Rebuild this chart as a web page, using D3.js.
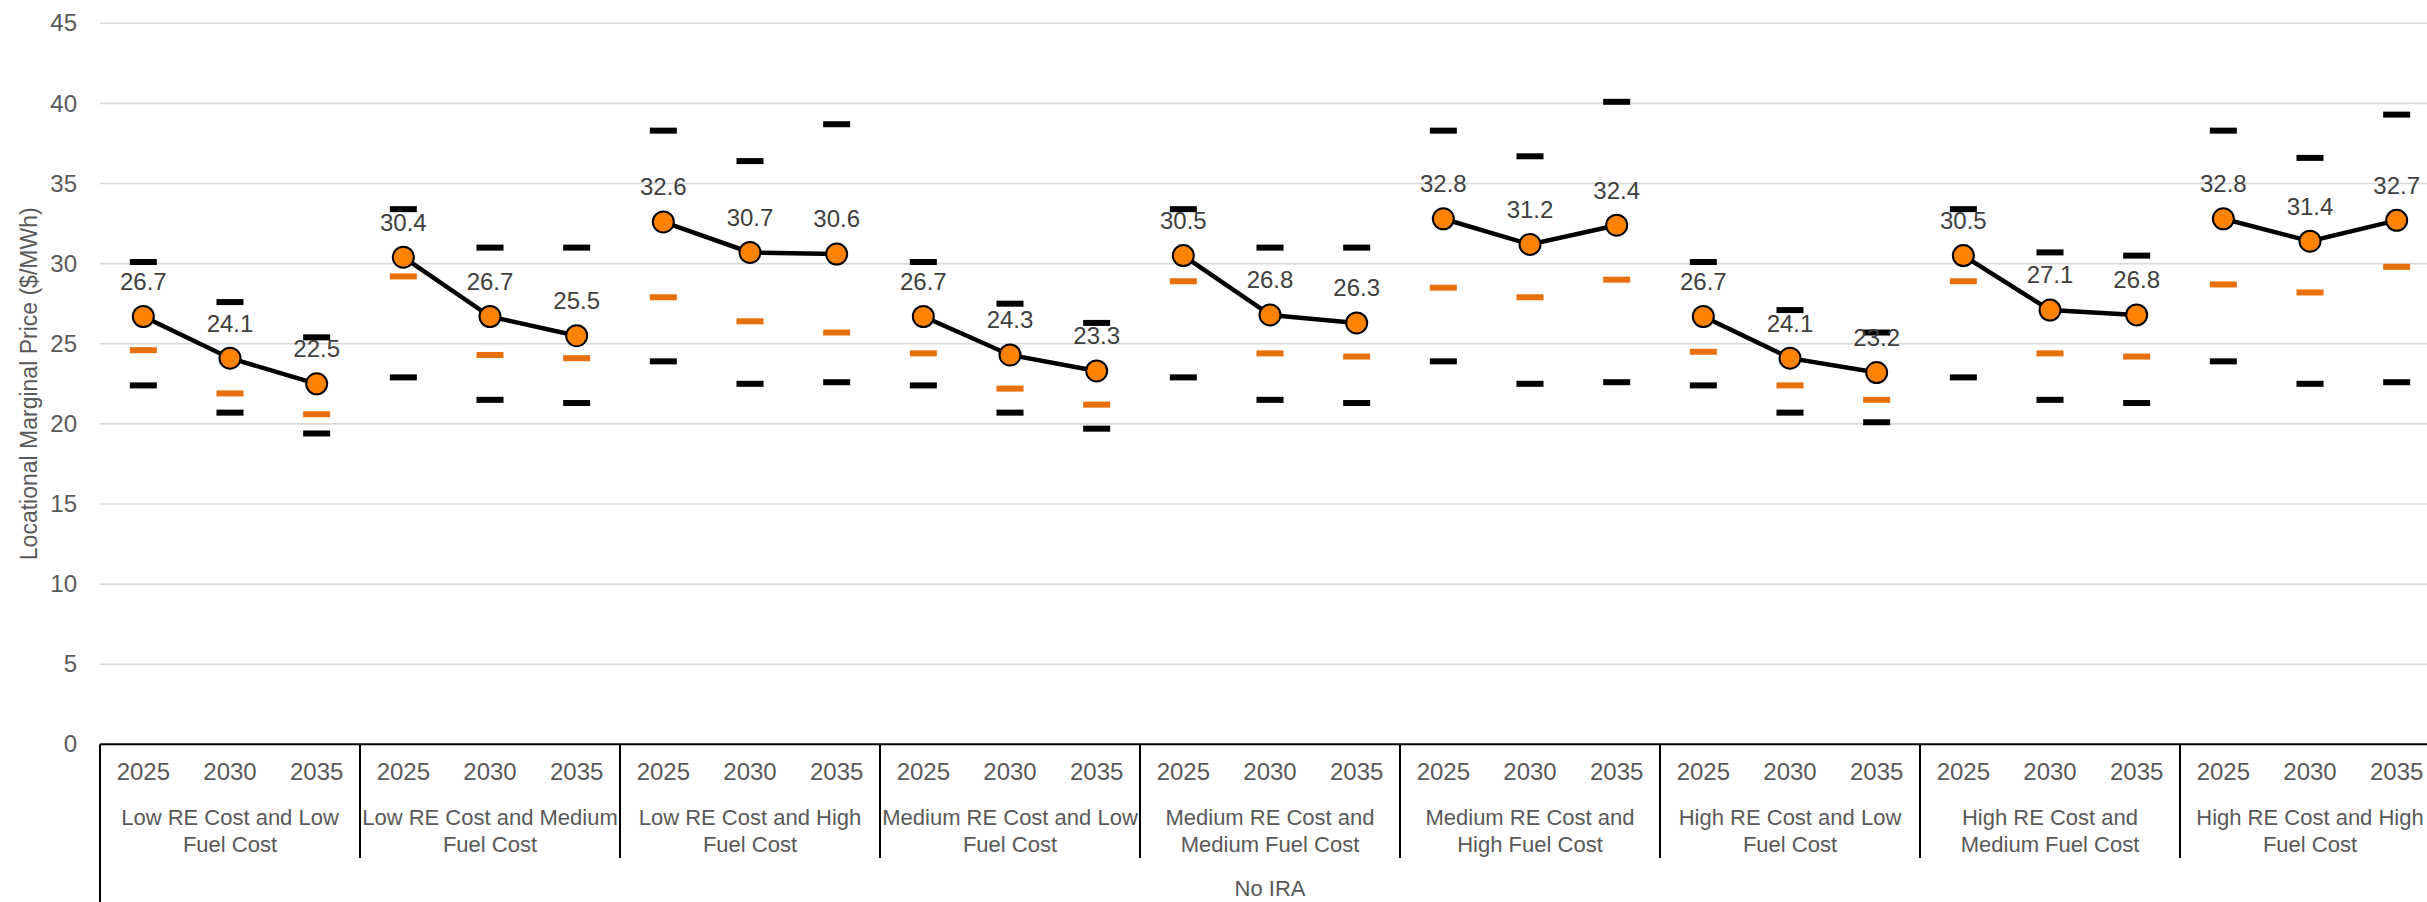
<!DOCTYPE html>
<html>
<head>
<meta charset="utf-8">
<script src="https://cdn.jsdelivr.net/npm/d3@7"></script>
<style>
  body { margin: 0; background: #fff; }
  svg { display: block; font-family: "Liberation Sans", Arial, sans-serif; }
</style>
</head>
<body>
<svg id="chart" width="2427" height="902"></svg>
<script>
// category labels (two lines each, as wrapped in the original)
const GROUP_LABELS = [
  ["Low RE Cost and Low", "Fuel Cost"],
  ["Low RE Cost and Medium", "Fuel Cost"],
  ["Low RE Cost and High", "Fuel Cost"],
  ["Medium RE Cost and Low", "Fuel Cost"],
  ["Medium RE Cost and", "Medium Fuel Cost"],
  ["Medium RE Cost and", "High Fuel Cost"],
  ["High RE Cost and Low", "Fuel Cost"],
  ["High RE Cost and", "Medium Fuel Cost"],
  ["High RE Cost and High", "Fuel Cost"],
];
const YEARS = ["2025", "2030", "2035"];
const OUTER_LABEL = "No IRA";
const Y_TICKS = [0, 5, 10, 15, 20, 25, 30, 35, 40, 45];

// main series (orange markers, labelled)
const LMP = [
  26.7, 24.1, 22.5,
  30.4, 26.7, 25.5,
  32.6, 30.7, 30.6,
  26.7, 24.3, 23.3,
  30.5, 26.8, 26.3,
  32.8, 31.2, 32.4,
  26.7, 24.1, 23.2,
  30.5, 27.1, 26.8,
  32.8, 31.4, 32.7,
];
// upper black dash
const HIGH = [
  30.1, 27.6, 25.4,
  33.4, 31.0, 31.0,
  38.3, 36.4, 38.7,
  30.1, 27.5, 26.3,
  33.4, 31.0, 31.0,
  38.3, 36.7, 40.1,
  30.1, 27.1, 25.7,
  33.4, 30.7, 30.5,
  38.3, 36.6, 39.3,
];
// orange dash
const ALT = [
  24.6, 21.9, 20.6,
  29.2, 24.3, 24.1,
  27.9, 26.4, 25.7,
  24.4, 22.2, 21.2,
  28.9, 24.4, 24.2,
  28.5, 27.9, 29.0,
  24.5, 22.4, 21.5,
  28.9, 24.4, 24.2,
  28.7, 28.2, 29.8,
];
// lower black dash
const LOW = [
  22.4, 20.7, 19.4,
  22.9, 21.5, 21.3,
  23.9, 22.5, 22.6,
  22.4, 20.7, 19.7,
  22.9, 21.5, 21.3,
  23.9, 22.5, 22.6,
  22.4, 20.7, 20.1,
  22.9, 21.5, 21.3,
  23.9, 22.5, 22.6,
];

const config = {
  left: 100,
  right: 2440,
  top: 23.3,
  bottom: 744.3,
};

const svg = d3.select("#chart");

// flat records, one per category point
const points = LMP.map((v, i) => ({
  group: Math.floor(i / 3),
  year: YEARS[i % 3],
  value: v,
  high: HIGH[i],
  alt: ALT[i],
  low: LOW[i],
}));

// scales
const groupScale = d3
  .scaleBand()
  .domain(d3.range(GROUP_LABELS.length))
  .range([config.left, config.right]);
const yearScale = d3
  .scaleBand()
  .domain(YEARS)
  .range([0, groupScale.bandwidth()]);
const xPos = (d) =>
  groupScale(d.group) + yearScale(d.year) + yearScale.bandwidth() / 2;
const yScale = d3
  .scaleLinear()
  .domain([0, 45])
  .range([config.bottom, config.top]);

// gridlines
svg
  .append("g")
  .selectAll("line")
  .data(Y_TICKS.filter((t) => t > 0))
  .join("line")
  .attr("x1", config.left)
  .attr("x2", 2427)
  .attr("y1", (d) => yScale(d))
  .attr("y2", (d) => yScale(d))
  .attr("stroke", "#d9d9d9")
  .attr("stroke-width", 1.6);

// y axis tick labels
const yAxis = svg
  .append("g")
  .attr("class", "axis axis-y")
  .attr("transform", `translate(${config.left}, 0)`)
  .call(d3.axisLeft(yScale).tickValues(Y_TICKS).tickSize(0).tickPadding(23));
yAxis.select(".domain").remove();
yAxis
  .selectAll("text")
  .attr("font-size", 24)
  .attr("fill", "#595959")
  .attr("font-family", "Liberation Sans, Arial, sans-serif");

// y axis label
svg
  .append("text")
  .attr("transform", `translate(29, ${(config.top + config.bottom) / 2}) rotate(-90)`)
  .attr("text-anchor", "middle")
  .attr("dy", "0.35em")
  .attr("font-size", 23)
  .attr("fill", "#595959")
  .text("Locational Marginal Price ($/MWh)");

// x axis line
svg
  .append("line")
  .attr("x1", config.left)
  .attr("x2", config.right)
  .attr("y1", config.bottom)
  .attr("y2", config.bottom)
  .attr("stroke", "#000")
  .attr("stroke-width", 2);

// group separators
svg
  .append("g")
  .selectAll("line")
  .data(d3.range(1, GROUP_LABELS.length + 1))
  .join("line")
  .attr("x1", (d) => (d < GROUP_LABELS.length ? groupScale(d) : config.right))
  .attr("x2", (d) => (d < GROUP_LABELS.length ? groupScale(d) : config.right))
  .attr("y1", config.bottom)
  .attr("y2", 858)
  .attr("stroke", "#000")
  .attr("stroke-width", 2);

// outer left border line
svg
  .append("line")
  .attr("x1", config.left)
  .attr("x2", config.left)
  .attr("y1", config.bottom)
  .attr("y2", 902)
  .attr("stroke", "#000")
  .attr("stroke-width", 2);

// year labels
svg
  .append("g")
  .selectAll("text")
  .data(points)
  .join("text")
  .attr("x", xPos)
  .attr("y", 772)
  .attr("dy", "0.35em")
  .attr("text-anchor", "middle")
  .attr("font-size", 24)
  .attr("fill", "#595959")
  .text((d) => d.year);

// group labels
const groupLabel = svg
  .append("g")
  .selectAll("text")
  .data(GROUP_LABELS)
  .join("text")
  .attr("text-anchor", "middle")
  .attr("font-size", 22)
  .attr("fill", "#595959");
groupLabel
  .selectAll("tspan")
  .data((d, i) => d.map((line) => ({ line, i })))
  .join("tspan")
  .attr("x", (d) => groupScale(d.i) + groupScale.bandwidth() / 2)
  .attr("y", (d, j) => 817 + j * 27)
  .attr("dy", "0.35em")
  .text((d) => d.line);

// outer category label
svg
  .append("text")
  .attr("x", (config.left + config.right) / 2)
  .attr("y", 888)
  .attr("dy", "0.35em")
  .attr("text-anchor", "middle")
  .attr("font-size", 22)
  .attr("fill", "#595959")
  .text(OUTER_LABEL);

// dashes: high, alternative, low
const dashW = 27;
const dashH = 6;
[
  { key: "high", color: "#000" },
  { key: "alt", color: "#e8700c" },
  { key: "low", color: "#000" },
].forEach((s) => {
  svg
    .append("g")
    .selectAll("rect")
    .data(points)
    .join("rect")
    .attr("x", (d) => xPos(d) - dashW / 2)
    .attr("y", (d) => yScale(d[s.key]) - dashH / 2)
    .attr("width", dashW)
    .attr("height", dashH)
    .attr("fill", s.color);
});

// one line per group
const line = d3
  .line()
  .x(xPos)
  .y((d) => yScale(d.value));
svg
  .append("g")
  .selectAll("path")
  .data(d3.groups(points, (d) => d.group).map((g) => g[1]))
  .join("path")
  .attr("d", line)
  .attr("fill", "none")
  .attr("stroke", "#000")
  .attr("stroke-width", 4.5);

// markers
svg
  .append("g")
  .selectAll("circle")
  .data(points)
  .join("circle")
  .attr("cx", xPos)
  .attr("cy", (d) => yScale(d.value))
  .attr("r", 10.5)
  .attr("fill", "#ff8200")
  .attr("stroke", "#000")
  .attr("stroke-width", 2);

// data labels
svg
  .append("g")
  .selectAll("text")
  .data(points)
  .join("text")
  .attr("x", xPos)
  .attr("y", (d) => yScale(d.value) - 35)
  .attr("dy", "0.35em")
  .attr("text-anchor", "middle")
  .attr("font-size", 24)
  .attr("fill", "#404040")
  .text((d) => d.value.toFixed(1));
</script>
</body>
</html>
